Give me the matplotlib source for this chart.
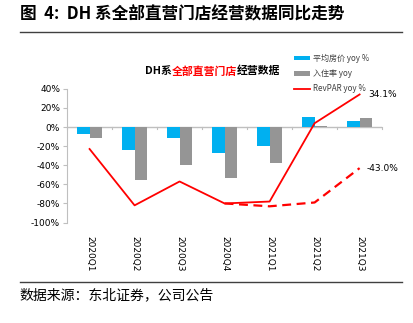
import numpy as np
import matplotlib
matplotlib.use('Agg')
import matplotlib.pyplot as plt

plt.rcParams['font.family'] = ['Noto Sans CJK SC', 'DejaVu Sans']

quarters = ['2020Q1', '2020Q2', '2020Q3', '2020Q4', '2021Q1', '2021Q2', '2021Q3']
adr_yoy = [-7, -24.5, -11, -27, -20, 10.5, 6]        # 平均房价 yoy %
occ_yoy = [-12, -55, -40, -53, -38, 1, 9.5]          # 入住率 yoy
revpar_yoy = [-23, -82, -57, -80, -78, 4, 34.1]      # RevPAR yoy %
revpar_19 = [np.nan, np.nan, np.nan, -80, -83, -79, -43.0]  # dashed series
yticks = [40, 20, 0, -20, -40, -60, -80, -100]

blue = '#00B0F0'
gray = '#959595'
red = '#FF0000'

fig = plt.figure(figsize=(4.14, 3.23), dpi=100)
ax = fig.add_axes([0.162, 0.311, 0.761, 0.414])

x = np.arange(len(quarters))
w = 0.28
b1 = ax.bar(x - w / 2, adr_yoy, w, color=blue, zorder=2)
b2 = ax.bar(x + w / 2, occ_yoy, w, color=gray, zorder=2)
l1, = ax.plot(x, revpar_yoy, color=red, lw=1.3, zorder=3)
ax.plot(x, revpar_19, color=red, lw=1.6, ls=(0, (4, 2.5)), zorder=3)

ax.text(x[-1] + 0.2, revpar_yoy[-1], '%.1f%%' % revpar_yoy[-1], fontsize=6.5,
        va='center', ha='left', family='DejaVu Sans')
ax.text(x[-1] + 0.15, revpar_19[-1], '%.1f%%' % revpar_19[-1], fontsize=6.5,
        va='center', ha='left', family='DejaVu Sans')

# zero line with category separators
ax.axhline(0, color='#BFBFBF', lw=1, zorder=1)
for b in np.arange(len(quarters) + 1) - 0.5:
    ax.plot([b, b], [0, -1.8], color='#BFBFBF', lw=0.8, zorder=1, clip_on=False)

ax.set_xlim(-0.5, len(quarters) - 0.5)
ax.set_ylim(-100, 40)
ax.set_yticks(yticks)
ax.set_yticklabels(['%d%%' % v for v in yticks], fontsize=6.5, family='DejaVu Sans')
ax.set_xticks(x)
ax.set_xticklabels(quarters, rotation=270, fontsize=6.5, family='DejaVu Sans')
ax.tick_params(axis='x', length=0, pad=10)
ax.tick_params(axis='y', length=3, color='#BFBFBF', pad=2)
for s in ['top', 'right', 'bottom']:
    ax.spines[s].set_visible(False)
ax.spines['left'].set_color('#BFBFBF')

leg = fig.legend([b1, b2, l1], ['平均房价 yoy %', '入住率 yoy', 'RevPAR yoy %'],
                 loc='upper left', bbox_to_anchor=(0.700, 0.845), fontsize=5.8,
                 frameon=False, handlelength=2.0, labelspacing=0.75,
                 handleheight=0.45, handletextpad=0.4, borderpad=0)
for t in leg.get_texts():
    t.set_color('#404040')

# chart title, middle part in red
fig.canvas.draw()
r = fig.canvas.get_renderer()
tx = 145 / 414
for part, col in [('DH系', 'black'), ('全部直营门店', red), ('经营数据', 'black')]:
    t = fig.text(tx, 0.78, part, fontsize=7.8, fontweight='bold', color=col,
                 ha='left', va='center')
    bb = t.get_window_extent(renderer=r)
    tx += bb.width / fig.bbox.width

# header and footer
fig.text(0.048, 0.955, '图  4:  DH 系全部直营门店经营数据同比走势', fontsize=12,
         fontweight='bold', ha='left', va='center')
fig.add_artist(plt.Line2D([0.048, 0.972], [0.902, 0.902], color='#404040', lw=1))
fig.add_artist(plt.Line2D([0.048, 0.972], [0.128, 0.128], color='#404040', lw=1))
fig.text(0.048, 0.085, '数据来源：东北证券，公司公告', fontsize=10, ha='left', va='center')

fig.savefig('out.png', dpi=100)
